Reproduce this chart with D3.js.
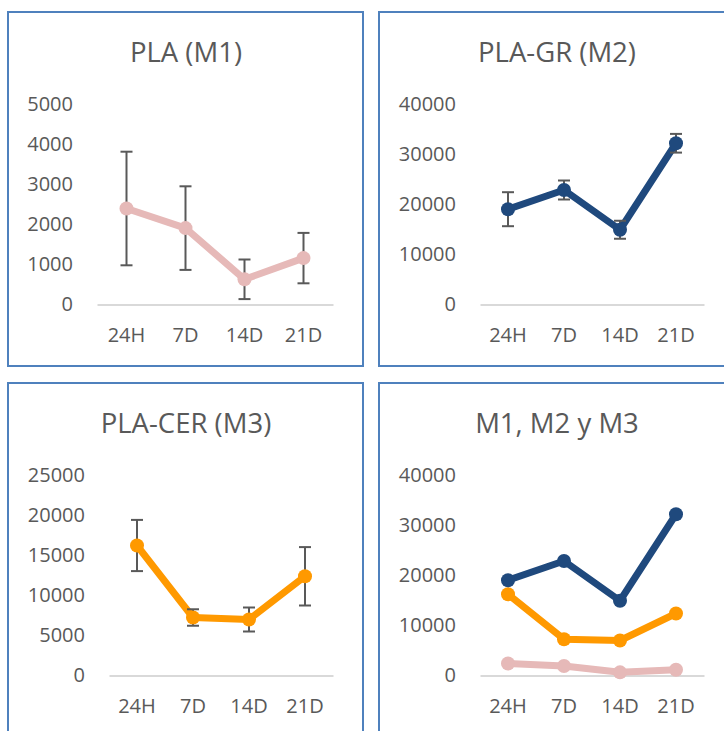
<!DOCTYPE html>
<html>
<head>
<meta charset="utf-8">
<script src="https://cdn.jsdelivr.net/npm/d3@7"></script>
<style>
  html, body { margin: 0; padding: 0; background: #fff; }
  svg { display: block; }
  text { font-family: "Open Sans", sans-serif; fill: #595959; }
</style>
</head>
<body>
<svg id="chart" width="724" height="731"></svg>
<script>
// ---- data ----
const categories = ["24H", "7D", "14D", "21D"];
const m1 = [2400, 1910, 630, 1160];
const m1Err = [1420, 1045, 495, 630];
const m2 = [19060, 22900, 14950, 32250];
const m2Err = [3400, 1900, 1800, 1870];
const m3 = [16250, 7250, 7000, 12400];
const m3Err = [3200, 1030, 1500, 3650];
const ticksM1 = [0, 1000, 2000, 3000, 4000, 5000];
const ticksM2 = [0, 10000, 20000, 30000, 40000];
const ticksM3 = [0, 5000, 10000, 15000, 20000, 25000];
const ticksAll = [0, 10000, 20000, 30000, 40000];
const titles = ["PLA (M1)", "PLA-GR (M2)", "PLA-CER (M3)", "M1, M2 y M3"];

const colors = { m1: "#e6b9b8", m2: "#1f497d", m3: "#ff9900" };
const FONT = "'Open Sans', sans-serif";

const svg = d3.select("#chart");

const panels = [
  { x: 8,   y: 12,  w: 355, h: 354, left: 89,  title: titles[0], ticks: ticksM1, max: 5000,
    series: [{ v: m1, e: m1Err, c: colors.m1 }] },
  { x: 379, y: 12,  w: 355, h: 354, left: 101, title: titles[1], ticks: ticksM2, max: 40000,
    series: [{ v: m2, e: m2Err, c: colors.m2 }] },
  { x: 8,   y: 383, w: 355, h: 354, left: 101, title: titles[2], ticks: ticksM3, max: 25000,
    series: [{ v: m3, e: m3Err, c: colors.m3 }] },
  { x: 379, y: 383, w: 355, h: 354, left: 101, title: titles[3], ticks: ticksAll, max: 40000,
    series: [{ v: m1, c: colors.m1 }, { v: m3, c: colors.m3 }, { v: m2, c: colors.m2 }] }
];

panels.forEach(p => {
  const g = svg.append("g").attr("transform", `translate(${p.x},${p.y})`);
  g.append("rect").attr("x", 0).attr("y", 0).attr("width", p.w).attr("height", p.h)
    .attr("fill", "#fff").attr("stroke", "#4f81bd").attr("stroke-width", 2);

  g.append("text").attr("x", 178).attr("y", 50).attr("text-anchor", "middle")
    .style("font-size", "27.5px").text(p.title);

  const x = d3.scaleBand().domain(categories).range([p.left, 325]);
  const y = d3.scaleLinear().domain([0, p.max]).range([292.5, 92.5]);

  const yAxis = d3.axisLeft(y).tickValues(p.ticks).tickSize(0).tickPadding(24).tickFormat(d3.format("d"));
  const ya = g.append("g").attr("transform", `translate(${p.left},0)`).call(yAxis);
  ya.select(".domain").remove();
  ya.selectAll("text").style("font-size", "20px").attr("fill", "#595959")
    .style("font-family", FONT);

  const xAxis = d3.axisBottom(x).tickSize(0).tickPadding(23);
  const xa = g.append("g").attr("transform", `translate(0,${y(0)})`).call(xAxis);
  xa.select(".domain").attr("stroke", "#d9d9d9").attr("stroke-width", 2);
  xa.selectAll("text").style("font-size", "20px").attr("fill", "#595959")
    .style("font-family", FONT);

  const cx = d => x(d) + x.bandwidth() / 2;

  p.series.forEach(s => {
    const pts = categories.map((c, i) => ({ c, v: s.v[i], e: s.e ? s.e[i] : null }));
    if (s.e) {
      const eb = g.append("g").attr("stroke", "#595959").attr("stroke-width", 2);
      pts.forEach(d => {
        eb.append("line").attr("x1", cx(d.c)).attr("x2", cx(d.c))
          .attr("y1", y(d.v + d.e)).attr("y2", y(d.v - d.e));
      });
    }
    const line = d3.line().x(d => cx(d.c)).y(d => y(d.v));
    g.append("path").datum(pts).attr("d", line).attr("fill", "none")
      .attr("stroke", s.c).attr("stroke-width", 7).attr("stroke-linejoin", "round");
    g.selectAll(null).data(pts).enter().append("circle")
      .attr("cx", d => cx(d.c)).attr("cy", d => y(d.v)).attr("r", 7).attr("fill", s.c);
    if (s.e) {
      const eb2 = g.append("g").attr("stroke", "#595959").attr("stroke-width", 2);
      pts.forEach(d => {
        [d.v + d.e, d.v - d.e].forEach(val => {
          eb2.append("line").attr("x1", cx(d.c) - 6).attr("x2", cx(d.c) + 6)
            .attr("y1", y(val)).attr("y2", y(val));
        });
      });
    }
  });
});
</script>
</body>
</html>
